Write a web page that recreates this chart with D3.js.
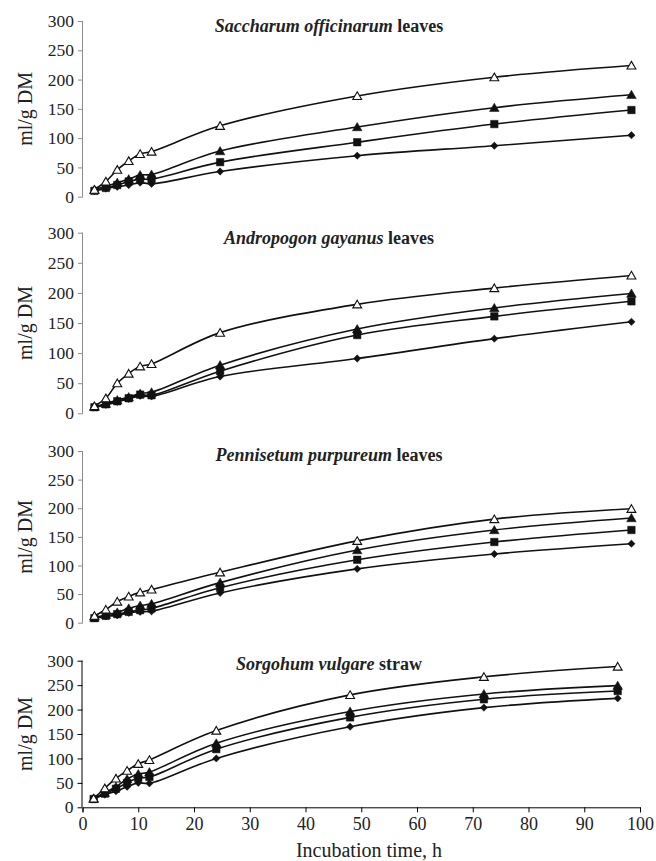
<!DOCTYPE html>
<html><head><meta charset="utf-8">
<script src="https://cdn.jsdelivr.net/npm/d3@7"></script>
<style>body{margin:0;background:#fff;} svg{display:block;}</style>
</head><body>
<svg id="c" width="656" height="861"></svg>
<script>
const hours = [2,4,6,8,10,12,24,48,72,96];
const yTicks = [0,50,100,150,200,250,300];
const xTicks = [0,10,20,30,40,50,60,70,80,90,100];
const seriesNames = ["diamond","square","triangle","openTriangle"];
const titles = [
  ["Saccharum officinarum", " leaves"],
  ["Andropogon gayanus", " leaves"],
  ["Pennisetum purpureum", " leaves"],
  ["Sorgohum vulgare", " straw"]
];
// Panel 1: Saccharum officinarum leaves
const sacDiamond  = [10,14,17,20,24,22,43,70,87,105];
const sacSquare   = [10,15,20,26,30,30,59,93,124,148];
const sacTriangle = [12,18,24,30,37,38,78,119,152,174];
const sacOpen     = [12,26,46,61,73,77,121,172,204,224];
// Panel 2: Andropogon gayanus leaves
const andDiamond  = [10,14,19,24,29,28,61,91,124,152];
const andSquare   = [10,15,20,25,31,30,70,130,161,186];
const andTriangle = [11,16,22,27,33,35,80,140,175,199];
const andOpen     = [12,25,50,66,78,82,134,181,208,229];
// Panel 3: Pennisetum purpureum leaves
const penDiamond  = [8,11,13,17,19,20,52,94,120,138];
const penSquare   = [8,12,15,19,22,25,61,110,141,162];
const penTriangle = [9,14,18,25,30,33,70,127,162,183];
const penOpen     = [12,23,37,46,53,58,88,143,181,199];
// Panel 4: Sorgohum vulgare straw
const sorDiamond  = [17,26,33,42,50,49,100,165,204,223];
const sorSquare   = [17,28,38,50,60,62,119,184,221,238];
const sorTriangle = [18,30,42,58,68,72,131,196,232,249];
const sorOpen     = [18,39,59,75,89,97,157,230,267,288];

const panelData = [
  [sacDiamond, sacSquare, sacTriangle, sacOpen],
  [andDiamond, andSquare, andTriangle, andOpen],
  [penDiamond, penSquare, penTriangle, penOpen],
  [sorDiamond, sorSquare, sorTriangle, sorOpen]
];

// layout
const panels = [
  {y0:196.7, y1:21,    xMax:97.5, x0:83,   x1:640, titleY:32,  axis:"#8c8c8c", xAxis:false},
  {y0:413.3, y1:232.7, xMax:97.5, x0:83,   x1:640, titleY:244, axis:"#8c8c8c", xAxis:false},
  {y0:622.7, y1:451,   xMax:97.5, x0:83,   x1:640, titleY:461, axis:"#8c8c8c", xAxis:false},
  {y0:807.3, y1:660.7, xMax:100,  x0:82.5, x1:640, titleY:670, axis:"#000",    xAxis:true}
];

const svg = d3.select("#c");
const font = "'Liberation Serif','Times New Roman',serif";

const sym = {
  diamond: d3.symbol().type(d3.symbolDiamond2 || d3.symbolDiamond).size(34),
  square: d3.symbol().type(d3.symbolSquare).size(56),
  triangle: d3.symbol().type(d3.symbolTriangle).size(40),
  openTriangle: d3.symbol().type(d3.symbolTriangle).size(34)
};

panels.forEach((p, pi) => {
  const g = svg.append("g");
  const x = d3.scaleLinear().domain([0, p.xMax]).range([p.x0, p.x1]);
  const y = d3.scaleLinear().domain([0, 300]).range([p.y0, p.y1]);

  // y axis
  const ya = g.append("g").attr("transform", `translate(${p.x0},0)`)
    .call(d3.axisLeft(y).tickValues(yTicks).tickSize(5).tickPadding(4));
  ya.selectAll("path,line").attr("stroke", p.axis).attr("stroke-width", 1);
  ya.select(".domain").attr("d", `M-0.5,${p.y0}V${p.y1}`);
  ya.selectAll("text").attr("font-family", font).attr("font-size", 17.5).attr("fill", "#222");

  // y label
  g.append("text")
    .attr("transform", `translate(25,${(p.y0 + p.y1) / 2}) rotate(-90)`)
    .attr("text-anchor", "middle").attr("dy", "0.35em")
    .attr("font-family", font).attr("font-size", 20).attr("fill", "#222")
    .text("ml/g DM");

  if (p.xAxis) {
    const xa = g.append("g").attr("transform", `translate(0,${p.y0})`)
      .call(d3.axisBottom(x).tickValues(xTicks).tickSize(5).tickPadding(5));
    xa.selectAll("path,line").attr("stroke", "#000").attr("stroke-width", 1);
    xa.selectAll("text").attr("font-family", font).attr("font-size", 18).attr("fill", "#222");
    svg.append("text").attr("x", 369).attr("y", 857).attr("text-anchor", "middle")
      .attr("font-family", font).attr("font-size", 20).attr("fill", "#222")
      .text("Incubation time, h");
  }

  // title
  const t = g.append("text").attr("x", 329).attr("y", p.titleY).attr("text-anchor", "middle")
    .attr("font-family", font).attr("font-size", 18).attr("font-weight", "bold").attr("fill", "#222");
  t.append("tspan").attr("font-style", "italic").text(titles[pi][0]);
  t.append("tspan").text(titles[pi][1]);

  const line = d3.line().x(d => x(d[0])).y(d => y(d[1])).curve(d3.curveCatmullRom.alpha(0.5));

  panelData[pi].forEach((vals, si) => {
    const pts = hours.map((h, i) => [h, vals[i]]);
    g.append("path").attr("d", line(pts)).attr("fill", "none")
      .attr("stroke", "#111").attr("stroke-width", 1.6);
  });
  panelData[pi].forEach((vals, si) => {
    const name = seriesNames[si];
    const pts = hours.map((h, i) => [h, vals[i]]);
    g.append("g").selectAll("path").data(pts).join("path")
      .attr("transform", d => `translate(${x(d[0])},${y(d[1]) + (name.includes("riangle") ? 1 : 0)})`)
      .attr("d", sym[name]())
      .attr("fill", name === "openTriangle" ? "#fff" : "#111")
      .attr("stroke", "#111")
      .attr("stroke-width", name === "openTriangle" ? 1.1 : 0.5);
  });
});
</script>
</body></html>
